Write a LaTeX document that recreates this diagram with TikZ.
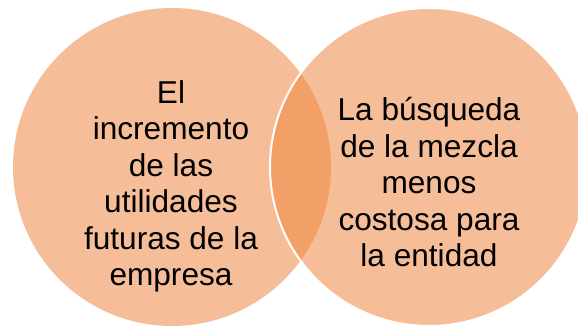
\documentclass[tikz,border=0pt]{standalone}
\usepackage{fontspec}
\setmainfont{Liberation Sans}
\definecolor{peach}{HTML}{F5BE99}
\definecolor{overlapc}{HTML}{F2A067}
\begin{document}
\begin{tikzpicture}[x=1pt,y=-1pt,
  circtext/.style={align=center,font=\fontsize{31.6}{36.5}\selectfont,inner sep=0pt,text=black}]
\useasboundingbox (0,0) rectangle (578,326);
\clip (0,0) rectangle (578,326);
\coordinate (cl) at (172,167);
\coordinate (cr) at (429,167);
\fill[peach] (cl) circle[radius=159];
\fill[peach] (cr) circle[radius=159];
\begin{scope}
  \clip (cl) circle[radius=159];
  \fill[overlapc] (cr) circle[radius=159];
\end{scope}
\draw[white,line width=2pt] (cr) circle[radius=159];
\node[circtext] (tl) at (171,186.5) {El\\incremento\\de las\\utilidades\\futuras de la\\empresa};
\node[circtext] (tr) at (429,182.5) {La búsqueda\\de la mezcla\\menos\\costosa para\\la entidad};
\end{tikzpicture}
\end{document}
